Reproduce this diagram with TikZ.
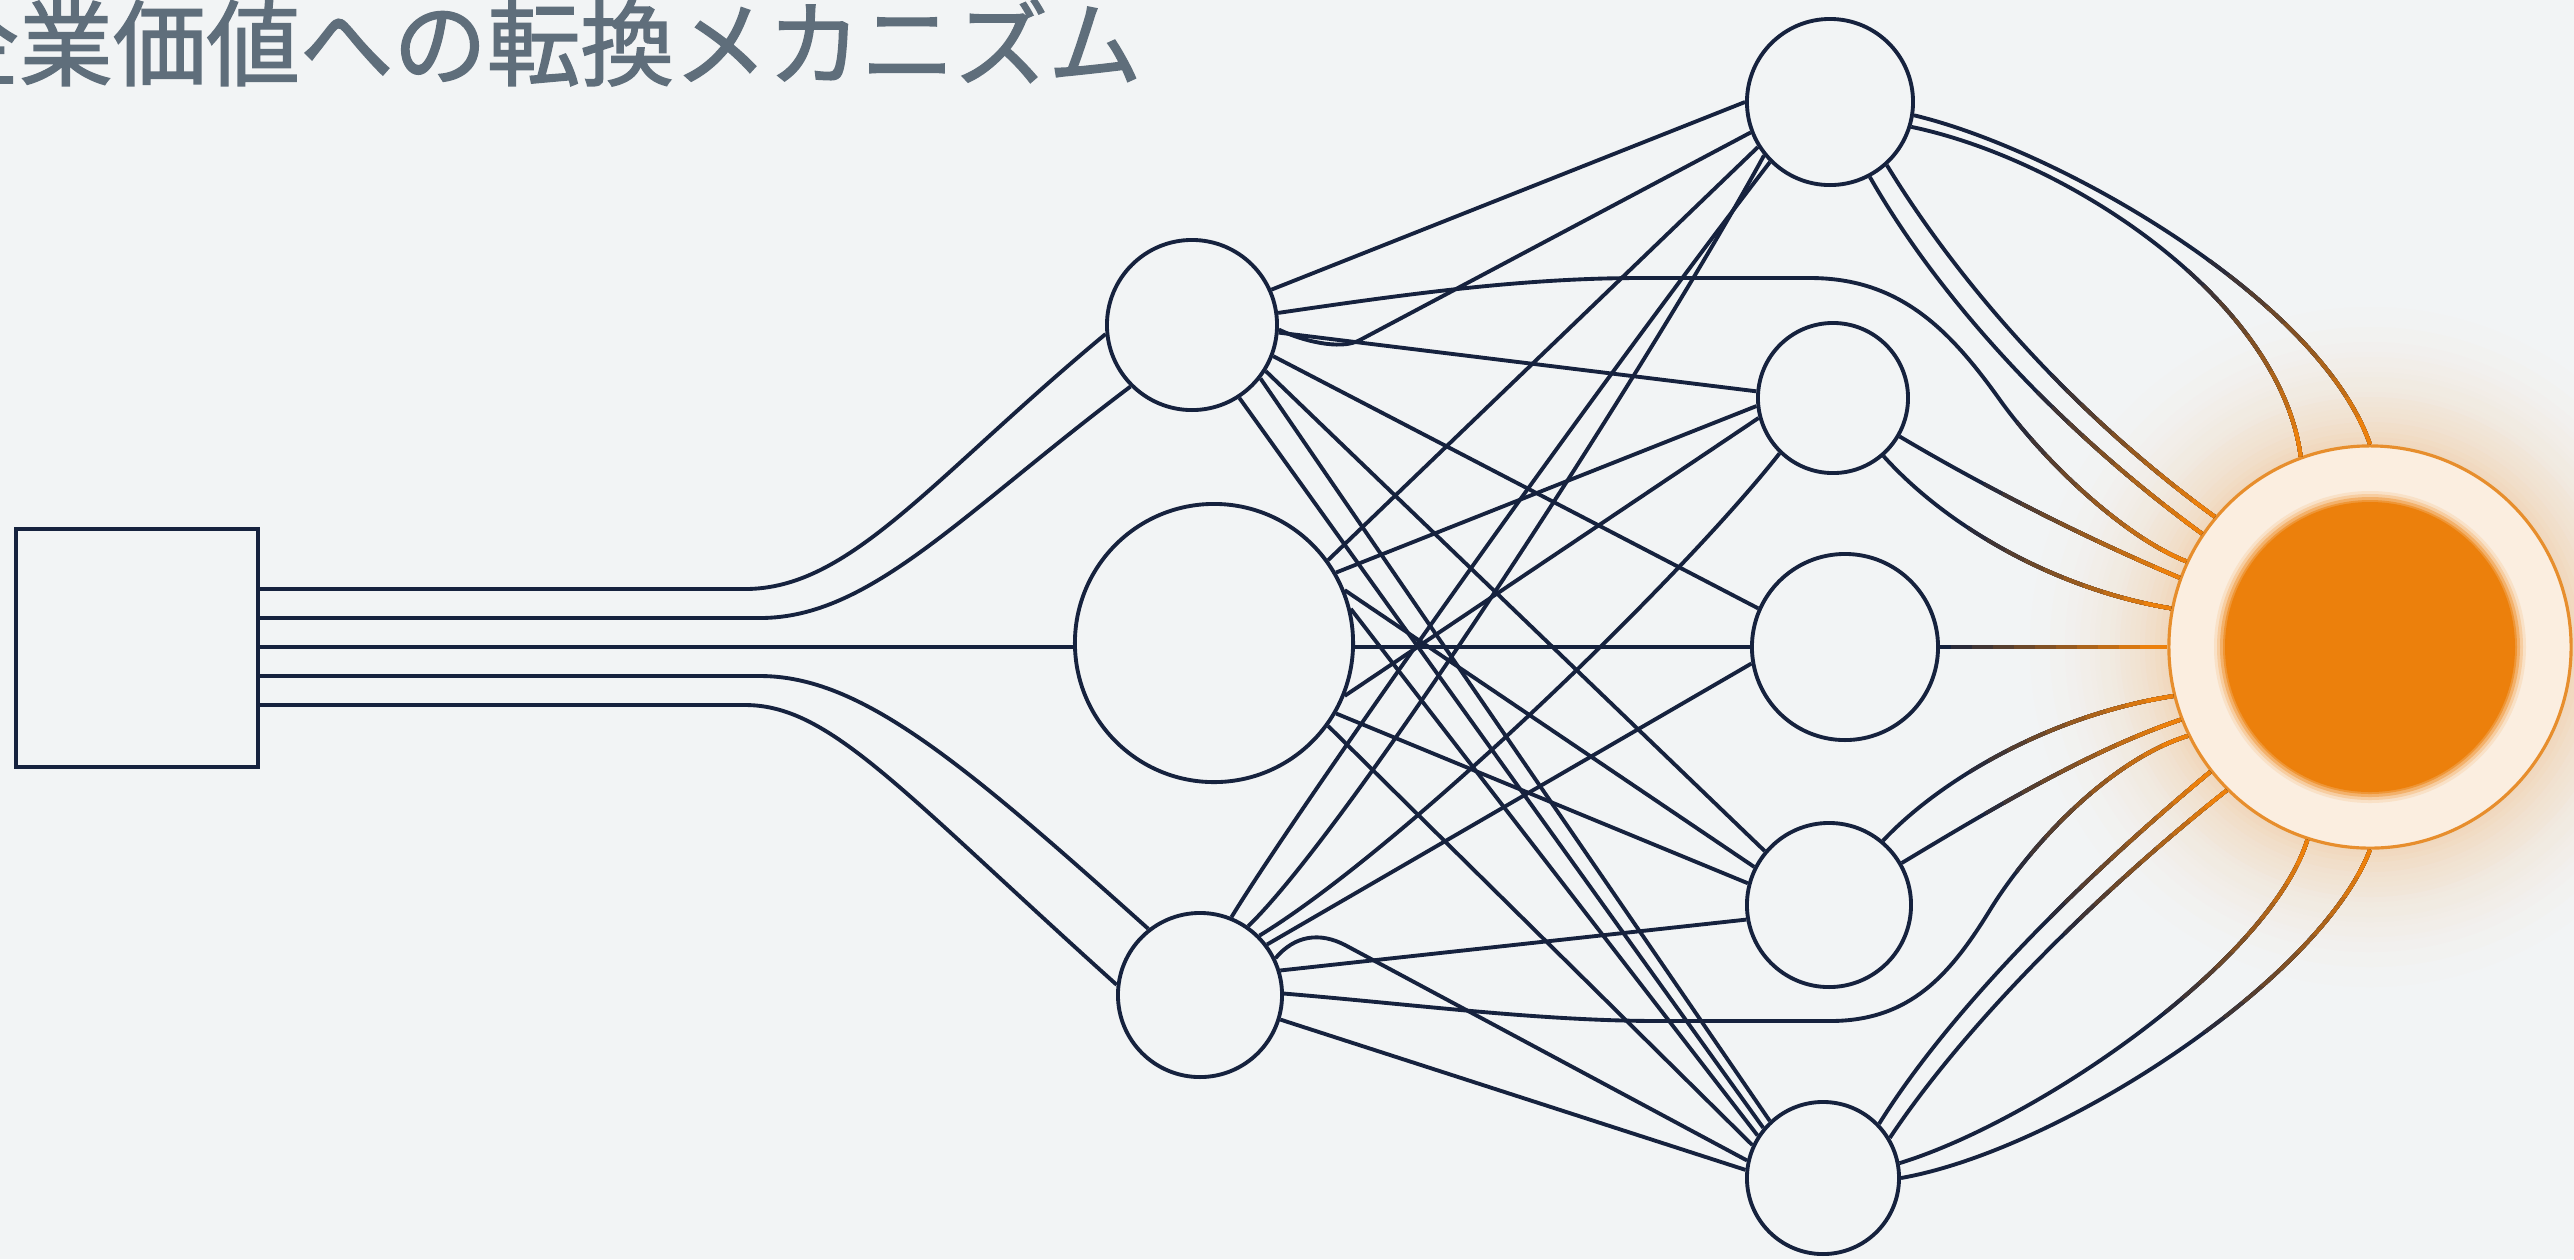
\documentclass[tikz,border=0pt]{standalone}
\usepackage{fontspec}
\newfontfamily\jpfont{Noto Sans CJK JP}[FakeBold=1.5]

\definecolor{bg}{RGB}{242,244,245}
\definecolor{navy}{RGB}{22,34,62}
\definecolor{amber}{RGB}{236,128,12}
\definecolor{ringc}{RGB}{231,142,45}
\definecolor{cream}{RGB}{251,238,224}
\definecolor{titlec}{RGB}{95,110,123}

\tikzset{
  wire/.style={draw=navy, line width=1.1pt},
  neuron/.style={circle, draw=navy, line width=1.1pt, fill=bg, inner sep=0pt, minimum size=#1},
}

% every connector that runs into the output node
\newcommand\outwires[1]{%
  \draw[#1] (R1.-9) .. controls (2060,150) and (2320,300) .. (O.90);
  \draw[#1] (R1.-17) .. controls (2070,160) and (2280,300) .. (O.110);
  \draw[#1] (R1.-48) .. controls (1960,285) and (2075,415) .. (O.140);
  \draw[#1] (R1.-62) .. controls (1940,300) and (2060,430) .. (O.146);
  \draw[#1] (A.8) .. controls (1400,295) and (1520,278) .. (1640,278) -- (1810,278)
            .. controls (1900,278) and (1950,330) .. (2000,400)
            .. controls (2040,456) and (2120,535) .. (O.155);
  \draw[#1] (R2.-30) .. controls (1990,490) and (2090,540) .. (O.160);
  \draw[#1] (R2.-49) .. controls (1950,530) and (2060,590) .. (O.169);
  \draw[#1] (R3.east) -- (O.west);
  \draw[#1] (R4.50) .. controls (1940,780) and (2050,715) .. (O.194);
  \draw[#1] (R4.30) .. controls (1990,810) and (2090,750) .. (O.201);
  \draw[#1] (C.1) .. controls (1420,1005) and (1540,1021) .. (1660,1021) -- (1830,1021)
            .. controls (1910,1021) and (1950,975) .. (1990,910)
            .. controls (2030,845) and (2110,760) .. (O.206);
  \draw[#1] (R5.44) .. controls (1950,1010) and (2080,880) .. (O.218);
  \draw[#1] (R5.31) .. controls (1965,1025) and (2095,895) .. (O.225);
  \draw[#1] (R5.11) .. controls (2040,1120) and (2270,960) .. (O.252);
  \draw[#1] (R5.0) .. controls (2060,1150) and (2320,980) .. (O.270);
}

\begin{document}
\begin{tikzpicture}[x=0.01cm, y=-0.01cm]
  \useasboundingbox (0,0) rectangle (2574,1259);
  \fill[bg] (0,0) rectangle (2574,1259);

  % soft halo round the output node
  \foreach \i in {0,...,36}{
    \pgfmathsetmacro\gr{380-5*\i}
    \pgfmathsetmacro\gt{\i/36}
    \pgfmathtruncatemacro\gp{round(26*\gt*\gt*sqrt(\gt))}
    \fill[amber!\gp!bg] (2370,647) circle[radius=\gr];
  }

  \node[anchor=base west, inner sep=0pt, text=titlec,
        font=\jpfont\fontsize{26.6pt}{32pt}\selectfont] (title) at (-75,78.5)
        {企業価値への転換メカニズム};

  % source box
  \node[draw=navy, line width=1.1pt, fill=bg, minimum width=2.42cm,
        minimum height=2.38cm, inner sep=0pt] (S) at (137,648) {};

  % hidden layers
  \node[neuron=1.70cm] (A) at (1192,325) {};
  \node[neuron=2.78cm] (B) at (1214,643) {};
  \node[neuron=1.64cm] (C) at (1200,995) {};
  \node[neuron=1.66cm] (R1) at (1830,102) {};
  \node[neuron=1.50cm] (R2) at (1833,398) {};
  \node[neuron=1.86cm] (R3) at (1845,647) {};
  \node[neuron=1.64cm] (R4) at (1829,905) {};
  \node[neuron=1.52cm] (R5) at (1823,1178) {};

  % output node: ring with a solid core
  \node[circle, draw=ringc, line width=0.9pt, fill=cream, inner sep=0pt,
        minimum size=4.02cm] (O) at (2370,647) {};
  \foreach \r/\p in {156/12, 153/30, 150/55, 147/80}{
    \fill[amber!\p!cream] (O.center) circle[radius=\r];
  }
  \fill[amber] (O.center) circle[radius=145];

  % source box fanning into the first layer
  \draw[wire] (S.east |- 0,589) -- (745,589) .. controls (850,589) and (930,480) .. (A.186);
  \draw[wire] (S.east |- 0,618) -- (760,618) .. controls (870,618) and (960,515) .. (A.225);
  \draw[wire] (S.east |- 0,647) -- (B.west |- 0,647);
  \draw[wire] (S.east |- 0,676) -- (760,676) .. controls (860,676) and (960,760) .. (C.128);
  \draw[wire] (S.east |- 0,705) -- (745,705) .. controls (830,705) and (900,790) .. (C.173);

  % upper node
  \draw[wire] (A.24) -- (R1.180);
  \draw[wire] (A.-3) .. controls (1300,340) and (1340,351) .. (1360,340) -- (R1.201);
  \draw[wire] (A.-5) -- (R2.175);
  \draw[wire] (A.-21) -- (R3.156);
  \draw[wire] (A.-32) -- (R4.140);
  \draw[wire] (A.-38) -- (R5.133);
  \draw[wire] (A.-57) -- (R5.140);

  % large middle node
  \draw[wire] (B.36) -- (R1.212);
  \draw[wire] (B.30) -- (R2.186);
  \draw[wire] (B.22) -- (R4.153);
  \draw[wire] (B.14) -- (R5.147);
  \draw[wire] (B.east |- 0,647) -- (R3.west);
  \draw[wire] (B.-22) -- (R2.195);
  \draw[wire] (B.-30) -- (R4.165);
  \draw[wire] (B.-36) -- (R5.155);

  % lower node
  \draw[wire] (C.68) .. controls (1291,819) and (1571,421) .. (R1.225);
  \draw[wire] (C.55) .. controls (1351,827) and (1655,355) .. (R1.219);
  \draw[wire] (C.45) .. controls (1400,850) and (1680,580) .. (R2.226);
  \draw[wire] (C.37) -- (R3.190);
  \draw[wire] (C.26) .. controls (1295,935) and (1320,932) .. (1345,945) -- (R5.167);
  \draw[wire] (C.17) -- (R4.190);
  \draw[wire] (C.-17) -- (R5.174);

  % connectors into the output, warming up as they approach it
  \outwires{wire}
  \foreach \k in {1,...,10}{
    \pgfmathsetmacro\rr{440-21*\k}
    \pgfmathtruncatemacro\pp{10*\k}
    \begin{scope}
      \clip (O.center) circle[radius=\rr];
      \outwires{wire, draw=amber!\pp!navy}
    \end{scope}
  }
\end{tikzpicture}
\end{document}
